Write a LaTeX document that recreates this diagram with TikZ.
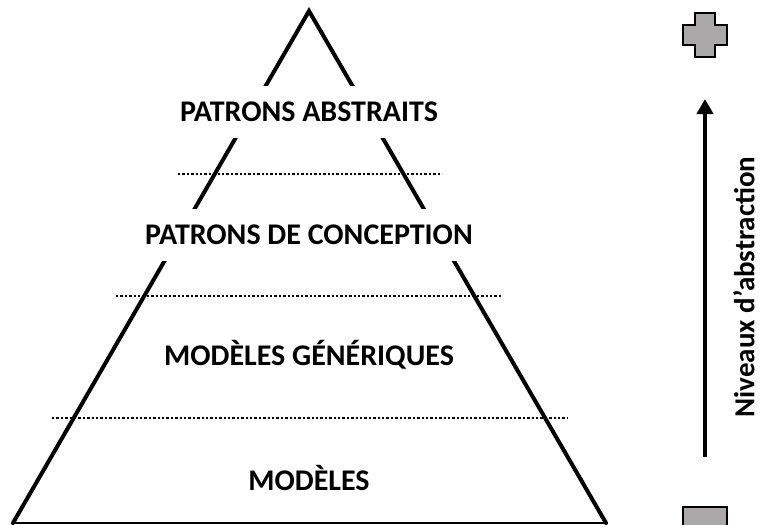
\documentclass[tikz,border=0pt]{standalone}
\usepackage{fontspec}
\setmainfont{Carlito}
\usetikzlibrary{arrows.meta}
\definecolor{icongray}{RGB}{170,168,168}
\tikzset{
  side/.style={line width=4pt, line cap=round, line join=miter},
  sep/.style={line width=2.3pt, dash pattern=on 2.3pt off 2.1pt},
  lvl/.style={fill=white, inner xsep=4pt, minimum height=52pt, font=\fontsize{30}{32}\selectfont\bfseries},
  icon/.style={fill=icongray, draw=black, line width=2.5pt, line join=miter}
}
\begin{document}
\begin{tikzpicture}[x=1pt,y=-1pt]
\useasboundingbox (0,0) rectangle (761,525);
% pyramid
\coordinate (apex) at (309,11);
\coordinate (bl) at (13,523);
\coordinate (br) at (606,523);
\draw[side] (bl) -- (apex) -- (br);
\draw[line width=1.5pt] (bl) -- (br);
% separators
\coordinate (s1a) at (178,174); \coordinate (s1b) at (442,174);
\coordinate (s2a) at (116,296); \coordinate (s2b) at (503,296);
\coordinate (s3a) at (52,418);  \coordinate (s3b) at (568,418);
\draw[sep] (s1a) -- (s1b);
\draw[sep] (s2a) -- (s2b);
\draw[sep] (s3a) -- (s3b);
% level labels
\node[lvl] (l1) at (309,112) {PATRONS ABSTRAITS};
\node[lvl] (l2) at (309,235) {PATRONS DE CONCEPTION};
\node[lvl] (l3) at (309,355) {MODÈLES GÉNÉRIQUES};
\node[lvl] (l4) at (309,478) {MODÈLES};
% arrow
\coordinate (abot) at (705,457);
\coordinate (atop) at (705,99);
\draw[line width=4pt, -{Triangle[width=16pt,length=15pt]}] (abot) -- (atop);
\node[rotate=90, font=\fontsize{29}{32}\selectfont\bfseries, inner sep=0pt] (axis) at (744,287) {Niveaux d’abstraction};
% plus icon
\draw[icon] (695,13) -- (715,13) -- (715,25) -- (727,25) -- (727,45) -- (715,45) -- (715,57) -- (695,57) -- (695,45) -- (683,45) -- (683,25) -- (695,25) -- cycle;
% minus icon
\draw[icon] (683,507) rectangle (727,528);
\end{tikzpicture}
\end{document}
